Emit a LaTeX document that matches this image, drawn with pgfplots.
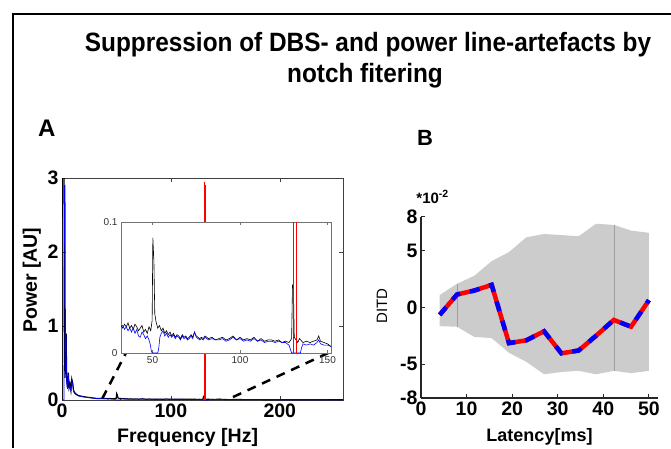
\documentclass[border=0pt]{standalone}
\usepackage{pgfplots}
\pgfplotsset{compat=1.18}
\usepackage{pgfplotstable}
\usepackage{fontspec}
\setmainfont{Liberation Sans}
\usepackage{graphicx}

% spectrum before filtering (black)
\pgfplotstableread{
f p
0 0
0.2 3.6
1.8 3.6
2.2 0.6
2.8 0.3
3.8 0.9
4.3 0.27
5 0.17
5.8 0.37
6.5 0.17
7.3 0.22
8.2 0.13
9 0.28
9.8 0.23
10.6 0.13
11.5 0.1
13 0.08
15 0.06
18 0.05
22 0.04
26 0.032
29 0.026
32 0.021
33 0.019
34 0.022
35 0.020
36 0.023
37 0.019
38 0.021
39 0.018
40 0.022
41 0.020
42 0.017
43 0.019
44 0.021
45 0.016
46 0.018
47 0.015
48 0.020
49 0.017
49.8 0.025
50.2 0.088
50.8 0.07
51.3 0.03
52 0.024
53 0.019
54 0.021
55 0.017
56 0.019
57 0.015
58 0.017
59 0.014
60 0.016
61 0.013
62 0.015
63 0.012
64 0.014
65 0.013
66 0.011
67 0.014
68 0.012
69 0.013
70 0.011
71 0.012
72 0.014
73 0.012
74 0.016
75 0.013
76 0.012
77 0.011
78 0.012
79 0.011
80 0.013
82 0.011
84 0.012
86 0.010
88 0.011
90 0.012
92 0.010
94 0.011
96 0.013
98 0.010
100 0.012
102 0.010
104 0.011
106 0.010
108 0.012
110 0.009
112 0.011
114 0.009
116 0.010
118 0.010
120 0.009
122 0.010
124 0.008
126 0.009
128 0.008
129.5 0.011
130 0.052
130.5 0.052
131 0.012
132 0.010
133 0.008
134 0.011
136 0.008
138 0.009
140 0.008
142 0.009
144 0.010
145 0.013
146 0.009
148 0.008
150 0.007
152 0.005
160 0.006
170 0.005
180 0.005
200 0.004
220 0.004
240 0.003
258 0.003
}\rawspec

% spectrum after notch filtering (blue)
\pgfplotstableread{
f p
0 0
1.8 0
2.3 2.9
2.9 2.9
3.3 0.4
3.8 0.88
4.3 0.25
5 0.15
5.8 0.35
6.5 0.15
7.3 0.2
8.2 0.12
9 0.27
9.8 0.22
10.6 0.12
11.5 0.09
13 0.07
15 0.055
18 0.045
22 0.037
26 0.03
29 0.024
32 0.020
33 0.021
34 0.018
35 0.020
36 0.017
37 0.019
38 0.016
39 0.019
40 0.015
41 0.018
42 0.013
43 0.012
44 0.016
45 0.014
46 0.011
47 0.013
48 0.010
48.8 0.006
49.4 0.001
50 0
53 0
53.6 0.004
54.2 0.012
55 0.015
56 0.017
57 0.013
58 0.015
59 0.012
60 0.014
61 0.012
62 0.014
63 0.011
64 0.013
65 0.012
66 0.010
67 0.013
68 0.011
69 0.012
70 0.010
71 0.011
72 0.013
73 0.011
74 0.016
75 0.012
76 0.011
77 0.010
78 0.011
79 0.010
80 0.012
82 0.010
84 0.011
86 0.010
88 0.010
90 0.011
92 0.009
94 0.010
96 0.012
98 0.010
100 0.011
102 0.009
104 0.010
106 0.009
108 0.011
110 0.009
112 0.010
114 0.008
116 0.009
118 0.009
120 0.008
122 0.009
124 0.008
126 0.008
128 0.006
129 0.002
129.5 0
134.5 0
135.2 0.004
136 0.007
138 0.006
140 0.007
142 0.006
144 0.008
145 0.010
146 0.007
148 0.006
150 0.006
152 0.005
160 0.005
170 0.004
180 0.005
200 0.004
220 0.003
240 0.003
258 0.002
}\filtspec

% DITD mean
\pgfplotstableread{
t m
4.1 -0.65
7.9 1.15
11.7 1.5
15.5 2.0
19.3 -3.15
23.1 -2.9
27.0 -2.1
30.8 -4.05
34.6 -3.8
38.4 -2.5
42.3 -1.1
46.1 -1.7
50.0 0.65
}\ditd

\begin{document}
\begin{tikzpicture}[x=1pt,y=1pt]
\useasboundingbox (0,0) rectangle (671,448);
\fill[white] (0,0) rectangle (671,448);
\draw[line width=1.8pt] (13,0) -- (13,434) -- (671,434);

\node[anchor=base, inner sep=0] at (368,396) {\fontsize{26.5}{30}\selectfont\bfseries\scalebox{0.92}[1]{Suppression of DBS- and power line-artefacts by}};
\node[anchor=base, inner sep=0] at (365,365) {\fontsize{26.5}{30}\selectfont\bfseries\scalebox{0.92}[1]{notch fitering}};
\node[anchor=base west, inner sep=0] at (38,312) {\fontsize{24}{26}\selectfont\bfseries A};
\node[anchor=base west, inner sep=0] at (417,303) {\fontsize{22}{26}\selectfont\bfseries B};

% panel A, full spectrum
\begin{axis}[
  at={(62pt,48pt)}, anchor=south west, scale only axis,
  width=281pt, height=222pt,
  xmin=0, xmax=258, ymin=0, ymax=3,
  xtick={0,100,200}, ytick={0,1,2,3},
  /pgf/number format/assume math mode=true,
  tick label style={font=\fontsize{19.5}{21}\selectfont\bfseries},
  axis line style={black!75, line width=0.8pt},
  tick style={black!75, line width=0.6pt}, major tick length=4pt,
  xlabel={Frequency [Hz]}, ylabel={Power [AU]},
  label style={font=\fontsize{19.5}{21}\selectfont\bfseries},
  xlabel style={at={(axis description cs:0.447,-0.19)}, anchor=base},
  ylabel style={at={(axis description cs:-0.107,0.54)}, anchor=center},
]
\addplot[black, line width=1.2pt] table[x=f, y=p] {\rawspec};
\addplot[blue, line width=0.6pt] table[x=f, y=p] {\filtspec};
\addplot[red, line width=0.8pt] coordinates {(130.4,0) (130.4,2.95)};
\addplot[red, line width=0.8pt] coordinates {(132,0) (132,2.9)};
\addplot[black, line width=2.5pt, dash pattern=on 9pt off 7pt] coordinates {(37,0.02) (58.7,0.635)};
\addplot[black, line width=2.5pt, dash pattern=on 9pt off 7pt] coordinates {(157,0.04) (248,0.66)};
\end{axis}

% panel A, inset zoom
\begin{axis}[
  at={(121pt,95pt)}, anchor=south west, scale only axis,
  width=210pt, height=131pt,
  xmin=32, xmax=152, ymin=0, ymax=0.1,
  xtick={50,100,150}, ytick={0,0.1}, scaled y ticks=false,
  axis background/.style={fill=white},
  /pgf/number format/assume math mode=true,
  tick label style={font=\fontsize{10}{12}\selectfont, black!80},
  axis line style={black!55, line width=0.8pt},
  tick style={black!55}, major tick length=3pt,
]
\addplot[black, line width=0.6pt] table[x=f, y=p] {\rawspec};
\addplot[blue, line width=0.6pt] table[x=f, y=p] {\filtspec};
\addplot[red, line width=0.7pt] coordinates {(130.4,0) (130.4,2.95)};
\addplot[red, line width=0.7pt] coordinates {(132,0) (132,2.9)};
\end{axis}

% panel B, DITD
\begin{axis}[
  at={(421pt,50pt)}, anchor=south west, scale only axis,
  width=237pt, height=181pt,
  xmin=0, xmax=52, ymin=-8, ymax=8,
  axis x line*=bottom, axis y line*=left,
  xtick={0,10,20,30,40,50}, ytick={-8,-5,0,5,8},
  tick align=inside,
  /pgf/number format/assume math mode=true,
  tick label style={font=\fontsize{19.5}{21}\selectfont\bfseries},
  axis line style={black!85, line width=1.3pt},
  tick style={black!85, line width=1pt}, major tick length=4pt,
  xlabel={Latency[ms]}, ylabel={DITD},
  xlabel style={font=\fontsize{18}{20}\selectfont\bfseries, at={(axis description cs:0.5,-0.238)}, anchor=base},
  ylabel style={font=\fontsize{15}{18}\selectfont, at={(axis description cs:-0.165,0.51)}, anchor=center},
  clip=false,
]
\addplot[fill=gray!40, draw=none] coordinates {
  (4.1,1.1) (7.9,2.1) (11.7,2.8) (15.5,4.1) (19.3,4.9) (23.1,6.2) (27.0,6.5)
  (30.8,6.4) (34.6,6.3) (38.4,7.4) (42.3,7.3) (46.1,6.8) (50.0,6.6)
  (50.0,-5.6) (46.1,-5.8) (42.3,-5.6) (38.4,-5.9) (34.6,-5.6) (30.8,-5.7)
  (27.0,-5.9) (23.1,-4.8) (19.3,-4.0) (15.5,-2.7) (11.7,-2.6) (7.9,-1.7) (4.1,-1.65)
} -- cycle;
\addplot[gray!75, line width=0.4pt] coordinates {(7.9,-1.7) (7.9,2.1)};
\addplot[gray!75, line width=0.4pt] coordinates {(42.3,-5.6) (42.3,7.3)};
\addplot[red, line width=4.5pt] table[x=t, y=m] {\ditd};
\addplot[blue, line width=4.5pt, dash pattern=on 10pt off 10pt] table[x=t, y=m] {\ditd};
\node[anchor=base west, inner sep=0, font=\fontsize{15}{18}\selectfont\bfseries] at (axis description cs:-0.02,1.077) {*10\textsuperscript{-2}};
\end{axis}
\end{tikzpicture}
\end{document}
